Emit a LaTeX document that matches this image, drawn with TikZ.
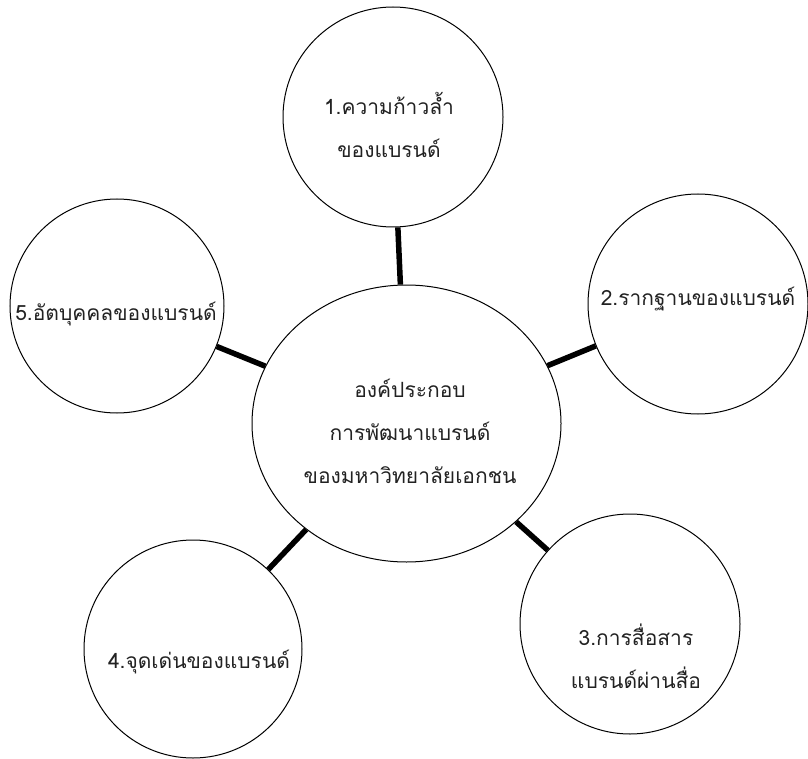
\documentclass[tikz,border=0pt]{standalone}
\usepackage{fontspec}
\usetikzlibrary{shapes.geometric}
\newfontfamily\thaifont[Script=Thai]{Loma}
\definecolor{inkgray}{HTML}{222222}
\begin{document}
\begin{tikzpicture}[x=1pt,y=-1pt,
  bubble/.style={draw=black,line width=1pt,circle,minimum size=220pt,inner sep=0pt},
  hub/.style={draw=black,line width=1pt,ellipse,minimum width=309pt,minimum height=277pt,inner sep=0pt},
  label/.style={align=center,text=inkgray,font=\thaifont\fontsize{21}{43}\selectfont,inner sep=0pt},
  link/.style={line width=5.5pt}]
\useasboundingbox (0,0) rectangle (808,759);
\node[hub] (cc) at (406.5,423.5) {};
\node[bubble] (c1) at (393,117) {};
\node[bubble] (c2) at (698,304) {};
\node[bubble,minimum size=214pt] (c5) at (117,306) {};
\node[bubble,minimum size=218pt] (c4) at (193,649) {};
\node[bubble] (c3) at (630,624) {};
\node[label] (tc) at (410,431) {องค์ประกอบ\\การพัฒนาแบรนด์\\ของมหาวิทยาลัยเอกชน};
\node[label] (t1) at (389,125) {1.ความก้าวล้ำ\\ของแบรนด์};
\node[label] (t2) at (698,299) {2.รากฐานของแบรนด์};
\node[label] (t3) at (636,656) {3.การสื่อสาร\\แบรนด์ผ่านสื่อ};
\node[label] (t4) at (199,662) {4.จุดเด่นของแบรนด์};
\node[label] (t5) at (116,314) {5.อัตบุคคลของแบรนด์};
\draw[link] (cc) -- (c1);
\draw[link] (cc) -- (c2);
\draw[link] (cc) -- (c3);
\draw[link] (cc) -- (c4);
\draw[link] (cc) -- (c5);
\end{tikzpicture}
\end{document}
